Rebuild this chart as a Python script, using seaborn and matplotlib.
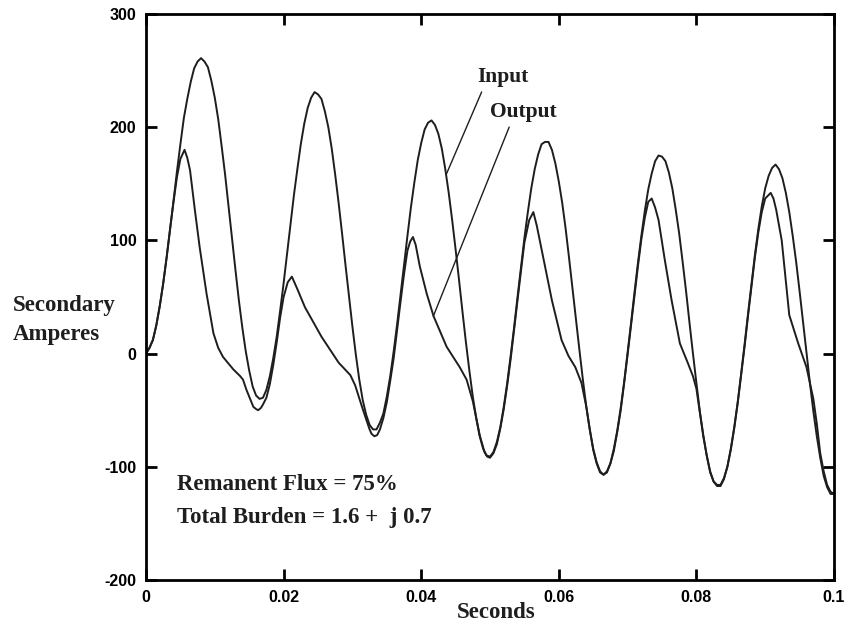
import numpy as np
import pandas as pd
import matplotlib
matplotlib.use('Agg')
import matplotlib.pyplot as plt
import seaborn as sns

# Input (primary current referred to secondary), every 0.5 ms
input_ms = [i * 0.5 for i in range(201)]
input_amps = [
    0, 5, 12, 25, 42, 62, 85, 110, 135, 161,
    185, 208, 225, 240, 252, 258, 261, 258, 253, 241,
    226, 207, 183, 158, 130, 102, 74, 47, 23, 2,
    -15, -29, -37, -40, -39, -32, -20, -4, 15, 38,
    62, 88, 114, 140, 163, 185, 203, 217, 226, 231,
    229, 225, 214, 200, 181, 158, 133, 106, 78, 51,
    24, -1, -23, -41, -54, -63, -67, -67, -61, -53,
    -38, -20, 2, 26, 52, 78, 104, 129, 151, 171,
    186, 198, 204, 206, 202, 194, 181, 163, 142, 118,
    92, 65, 37, 10, -15, -38, -57, -73, -84, -90,
    -91, -87, -78, -65, -47, -26, -2, 23, 50, 76,
    102, 125, 146, 163, 176, 185, 187, 187, 180, 168,
    152, 133, 110, 84, 57, 30, 3, -23, -47, -67,
    -84, -96, -104, -107, -104, -97, -84, -68, -48, -25,
    1, 27, 54, 80, 104, 126, 145, 159, 170, 175,
    174, 170, 160, 146, 127, 106, 81, 55, 27, 0,
    -26, -51, -72, -90, -104, -113, -116, -116, -110, -100,
    -84, -65, -43, -18, 8, 35, 61, 87, 110, 130,
    146, 157, 164, 167, 163, 155, 142, 125, 104, 81,
    55, 28, 1, -26, -51, -73, -92, -108, -118, -124,
    -124,
]

# Output (saturated CT secondary), denser at the bends
output_sec = [
    0.0000, 0.0005, 0.0010, 0.0015, 0.0020, 0.0025, 0.0030, 0.0035, 0.0040, 0.0045,
    0.0050, 0.0056, 0.0060, 0.0064, 0.0071, 0.0078, 0.0088, 0.0098, 0.0105, 0.0112,
    0.0127, 0.0137, 0.0141, 0.0146, 0.0156, 0.0160, 0.0163, 0.0167, 0.0170, 0.0175,
    0.0180, 0.0185, 0.0190, 0.0195, 0.0200, 0.0206, 0.0212, 0.0220, 0.0231, 0.0255,
    0.0280, 0.0297, 0.0304, 0.0315, 0.0325, 0.0328, 0.0332, 0.0336, 0.0340, 0.0345,
    0.0350, 0.0355, 0.0360, 0.0365, 0.0370, 0.0375, 0.0380, 0.0384, 0.0388, 0.0392,
    0.0398, 0.0408, 0.0418, 0.0437, 0.0456, 0.0466, 0.0475, 0.0485, 0.0492, 0.0496,
    0.0500, 0.0505, 0.0510, 0.0515, 0.0520, 0.0525, 0.0530, 0.0535, 0.0540, 0.0545,
    0.0550, 0.0557, 0.0563, 0.0568, 0.0578, 0.0590, 0.0604, 0.0614, 0.0624, 0.0633,
    0.0640, 0.0645, 0.0650, 0.0655, 0.0660, 0.0665, 0.0670, 0.0675, 0.0680, 0.0685,
    0.0690, 0.0695, 0.0700, 0.0705, 0.0710, 0.0715, 0.0720, 0.0725, 0.0730, 0.0735,
    0.0740, 0.0745, 0.0754, 0.0764, 0.0776, 0.0788, 0.0795, 0.0800, 0.0805, 0.0810,
    0.0815, 0.0820, 0.0825, 0.0830, 0.0835, 0.0840, 0.0845, 0.0850, 0.0855, 0.0860,
    0.0865, 0.0870, 0.0875, 0.0880, 0.0885, 0.0890, 0.0895, 0.0900, 0.0908, 0.0912,
    0.0916, 0.0924, 0.0935, 0.0948, 0.0960, 0.0970, 0.0975, 0.0980, 0.0985, 0.0990,
    0.0995, 0.1000,
]
output_amps = [
    0, 5, 12, 25, 42, 62, 85, 110, 134, 156,
    172, 180, 173, 162, 127, 94, 53, 18, 5, -3,
    -14, -20, -23, -32, -47, -49, -50, -48, -45, -39,
    -27, -10, 10, 32, 50, 63, 68, 57, 41, 15,
    -8, -19, -28, -49, -67, -71, -73, -72, -67, -57,
    -43, -24, -4, 21, 46, 70, 91, 99, 103, 96,
    77, 53, 33, 6, -12, -23, -42, -72, -87, -91,
    -92, -88, -80, -66, -49, -28, -5, 21, 47, 73,
    98, 118, 125, 113, 83, 47, 12, -2, -12, -26,
    -47, -67, -85, -97, -105, -107, -105, -97, -86, -69,
    -50, -26, -1, 25, 51, 77, 101, 120, 134, 137,
    129, 118, 83, 47, 9, -9, -20, -31, -52, -73,
    -90, -105, -113, -117, -117, -111, -100, -85, -66, -44,
    -19, 6, 33, 59, 85, 107, 125, 137, 142, 137,
    127, 100, 34, 9, -12, -40, -62, -88, -104, -116,
    -122, -124,
]

x_ticks = [0, 0.02, 0.04, 0.06, 0.08, 0.1]
x_tick_labels = ['0', '0.02', '0.04', '0.06', '0.08', '0.1']
y_ticks = [-200, -100, 0, 100, 200, 300]
y_tick_labels = ['-200', '-100', '0', '100', '200', '300']

sns.set_style('ticks')
plt.rcParams['font.family'] = ['Liberation Sans', 'DejaVu Sans']
serif = ['Liberation Serif', 'DejaVu Serif']
ink = '#1e1e1e'

df_in = pd.DataFrame({'t': np.array(input_ms) / 1000.0, 'amps': input_amps})
df_out = pd.DataFrame({'t': output_sec, 'amps': output_amps})

fig = plt.figure(figsize=(8.47, 6.28), dpi=100)
fig.patch.set_facecolor('white')
ax = fig.add_axes([146 / 847, 48 / 628, 688 / 847, 566 / 628])

sns.lineplot(data=df_in, x='t', y='amps', ax=ax, color=ink, lw=1.4,
             estimator=None, sort=False)
sns.lineplot(data=df_out, x='t', y='amps', ax=ax, color=ink, lw=1.4,
             estimator=None, sort=False)

ax.set_xlim(0, 0.1)
ax.set_ylim(-200, 300)
ax.set_xticks(x_ticks, x_tick_labels)
ax.set_yticks(y_ticks, y_tick_labels)
ax.set_xlabel('')
ax.set_ylabel('')
ax.tick_params(direction='in', length=8, width=2, top=True, right=True,
               labelsize=11.5, pad=7, colors='black')
for lab in ax.get_xticklabels() + ax.get_yticklabels():
    lab.set_fontweight('bold')
for sp in ax.spines.values():
    sp.set_visible(True)
    sp.set_linewidth(2)
    sp.set_color('black')

fig.text(13 / 847, 1 - 320 / 628, 'Secondary\nAmperes', family=serif,
         weight='bold', size=16.5, ha='left', va='center', linespacing=1.45,
         color=ink)
fig.text(496 / 847, 1 - 612 / 628, 'Seconds', family=serif, weight='bold',
         size=16.5, ha='center', va='center', color=ink)

ax.text(0.0045, -116, 'Remanent Flux = 75%', family=serif, weight='bold',
        size=16.5, ha='left', va='center', color=ink)
ax.text(0.0045, -145, 'Total Burden = 1.6 +  j 0.7', family=serif,
        weight='bold', size=16.5, ha='left', va='center', color=ink)

ax.annotate('Input', xy=(0.04362, 158), xytext=(0.0519, 244),
            family=serif, weight='bold', size=15.5, ha='center', va='center',
            color=ink,
            arrowprops=dict(arrowstyle='-', lw=1, color=ink,
                            relpos=(0.12, 0), shrinkA=1, shrinkB=0))
ax.annotate('Output', xy=(0.04176, 33), xytext=(0.0548, 213),
            family=serif, weight='bold', size=15.5, ha='center', va='center',
            color=ink,
            arrowprops=dict(arrowstyle='-', lw=1, color=ink,
                            relpos=(0.32, 0), shrinkA=1, shrinkB=0))

fig.savefig('out.png', dpi=100, facecolor='white')
